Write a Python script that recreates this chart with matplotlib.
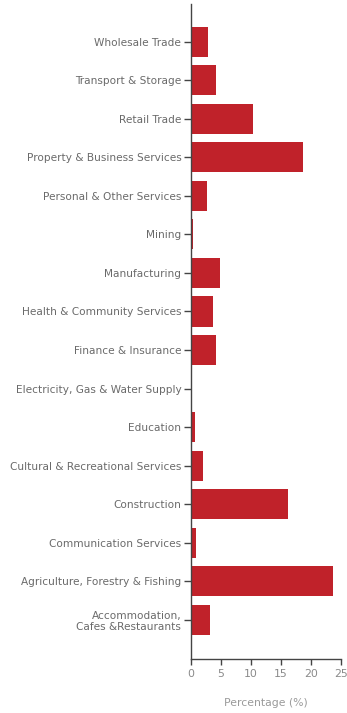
import numpy as np
import matplotlib.pyplot as plt

industries = ["Accommodation,\nCafes &Restaurants", "Agriculture, Forestry & Fishing",
              "Communication Services", "Construction", "Cultural & Recreational Services",
              "Education", "Electricity, Gas & Water Supply", "Finance & Insurance",
              "Health & Community Services", "Manufacturing", "Mining",
              "Personal & Other Services", "Property & Business Services", "Retail Trade",
              "Transport & Storage", "Wholesale Trade"]
percent = [3.1, 23.7, 0.8, 16.1, 2.0, 0.6, 0.0, 4.1, 3.7, 4.9, 0.3, 2.7, 18.6, 10.4, 4.2, 2.9]
xticks = [0, 5, 10, 15, 20, 25]

fig = plt.figure(figsize=(3.47, 7.13), dpi=100)
ax = fig.add_axes([0.5504, 0.0757, 0.4323, 0.9187])

y_pos = np.arange(len(industries))
ax.barh(y_pos, percent, height=0.78, color="#c0222a", edgecolor="none")

ax.set_ylim(-1.02, 15.98)
ax.set_xlim(0, 25)
ax.set_yticks(y_pos)
ax.set_yticklabels(industries, fontsize=7.6, color="#6a6a6a", linespacing=1.2)
ax.set_xticks(xticks)
ax.set_xticklabels([str(x) for x in xticks], fontsize=7.8, color="#8a8a8a")
ax.set_xlabel("Percentage (%)", fontsize=7.8, color="#9a9a9a", labelpad=14)

for s in ["top", "right"]:
    ax.spines[s].set_visible(False)
for s in ["left", "bottom"]:
    ax.spines[s].set_color("#444444")
    ax.spines[s].set_linewidth(1.0)
ax.tick_params(axis="y", length=5, width=1, color="#444444", pad=2)
ax.tick_params(axis="x", length=4, width=1, color="#444444", pad=3)

fig.savefig("out.png", dpi=100)
